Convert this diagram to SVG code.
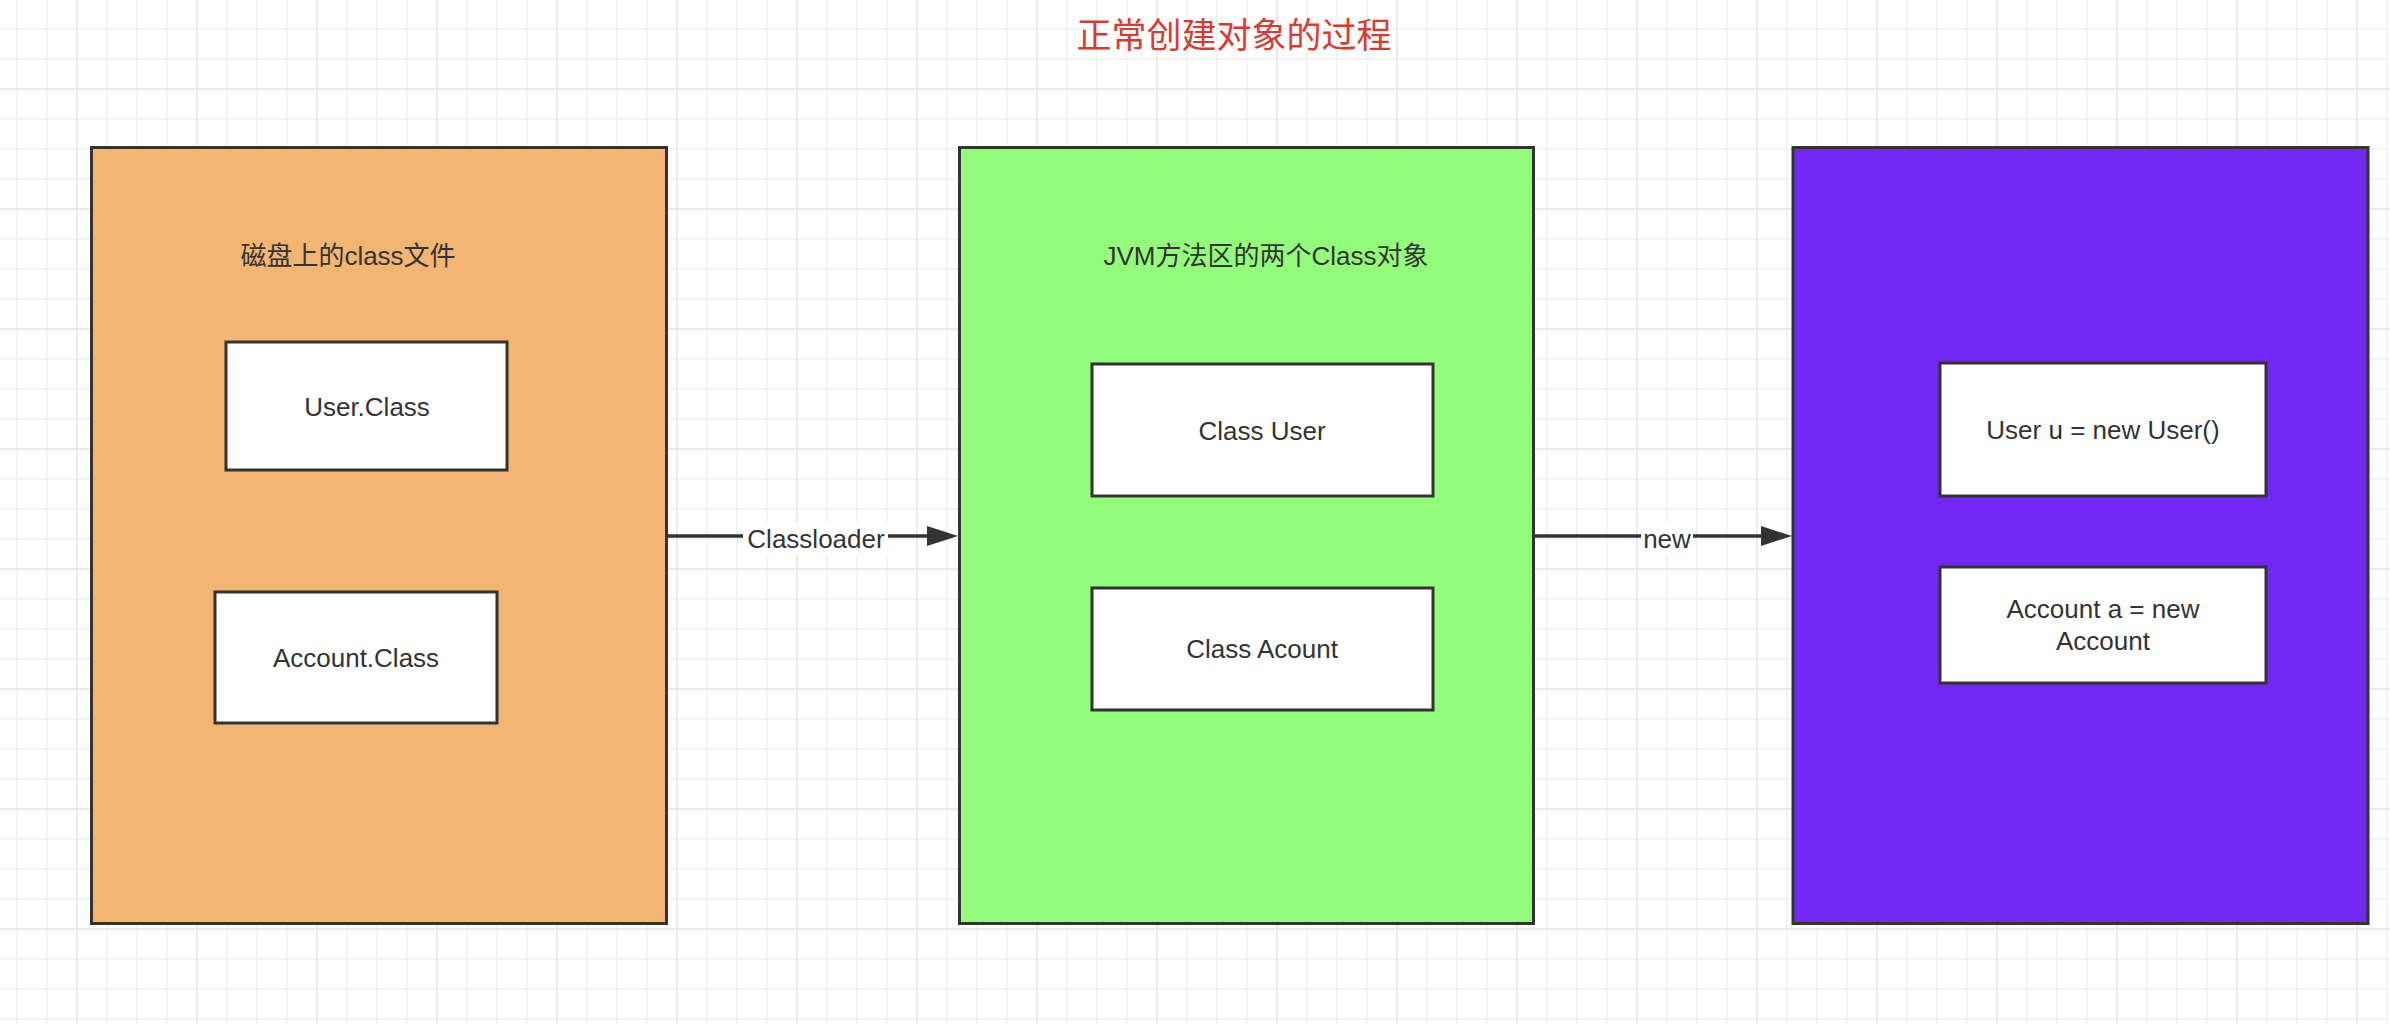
<svg xmlns="http://www.w3.org/2000/svg" width="2390" height="1024" viewBox="0 0 2390 1024">
<defs>
<pattern id="grid" patternUnits="userSpaceOnUse" x="76" y="88" width="120" height="120">
<rect x="0" y="0" width="120" height="120" fill="#ffffff"/>
<g fill="#f0f1f4">
<rect x="30" y="0" width="1.6" height="120"/>
<rect x="60" y="0" width="1.6" height="120"/>
<rect x="90" y="0" width="1.6" height="120"/>
<rect x="0" y="30" width="120" height="1.6"/>
<rect x="0" y="60" width="120" height="1.6"/>
<rect x="0" y="90" width="120" height="1.6"/>
</g>
<g fill="#e9eaef">
<rect x="0" y="0" width="2" height="120"/>
<rect x="0" y="0" width="120" height="2"/>
</g>
</pattern>
<marker id="arrow" markerUnits="userSpaceOnUse" markerWidth="32" markerHeight="22" refX="0" refY="10" orient="auto" overflow="visible">
<path d="M0,0 L31,10 L0,20 Z" fill="#333333"/>
</marker>
<style>
.outer { stroke: #333333; stroke-width: 3; }
.inner { fill: #ffffff; stroke: #333333; stroke-width: 3; }
.t { font-family: "Liberation Sans", "Noto Sans CJK SC", Arial, sans-serif; font-size: 26px; fill: #333333; text-anchor: middle; }
.title { font-family: "Noto Sans CJK SC", "Liberation Sans", sans-serif; font-size: 35px; fill: #db3a2f; text-anchor: middle; }
.conn { stroke: #333333; stroke-width: 3.5; fill: none; }
.lblbg { fill: #ffffff; }
</style>
</defs>
<rect x="0" y="0" width="2390" height="1024" fill="url(#grid)"/>

<g id="title">
<text class="title" x="1234" y="48">正常创建对象的过程</text>
</g>

<g id="disk">
<rect class="outer" x="91.5" y="147.5" width="575" height="776" fill="#f2b572"/>
<text class="t" x="348" y="265">磁盘上的class文件</text>
</g>
<g id="user-class-file">
<rect class="inner" x="226" y="342" width="281" height="128"/>
<text class="t" x="367" y="416">User.Class</text>
</g>
<g id="account-class-file">
<rect class="inner" x="215" y="592" width="282" height="131"/>
<text class="t" x="356" y="667">Account.Class</text>
</g>

<g id="jvm">
<rect class="outer" x="959.5" y="147.5" width="574" height="776" fill="#93fc7a"/>
<text class="t" x="1266" y="265">JVM方法区的两个Class对象</text>
</g>
<g id="class-user">
<rect class="inner" x="1092" y="364" width="341" height="132"/>
<text class="t" x="1262" y="440">Class User</text>
</g>
<g id="class-acount">
<rect class="inner" x="1092" y="588" width="341" height="122"/>
<text class="t" x="1262" y="658">Class Acount</text>
</g>

<g id="heap">
<rect class="outer" x="1793" y="147.5" width="575" height="776" fill="#7327f5"/>
</g>
<g id="new-user">
<rect class="inner" x="1940" y="363" width="326" height="133"/>
<text class="t" x="2103" y="439">User u = new User()</text>
</g>
<g id="new-account">
<rect class="inner" x="1940" y="567" width="326" height="116"/>
<text class="t" x="2103" y="618">Account a = new</text>
<text class="t" x="2103" y="650">Account</text>
</g>

<g id="connectors">
<path class="conn" d="M666,536 L927,536" marker-end="url(#arrow)"/>
<rect class="lblbg" x="743" y="522" width="145" height="33"/>
<text class="t" x="816" y="548">Classloader</text>
<path class="conn" d="M1533,536 L1761,536" marker-end="url(#arrow)"/>
<rect class="lblbg" x="1641" y="522" width="52" height="33"/>
<text class="t" x="1667" y="548">new</text>
</g>
</svg>
